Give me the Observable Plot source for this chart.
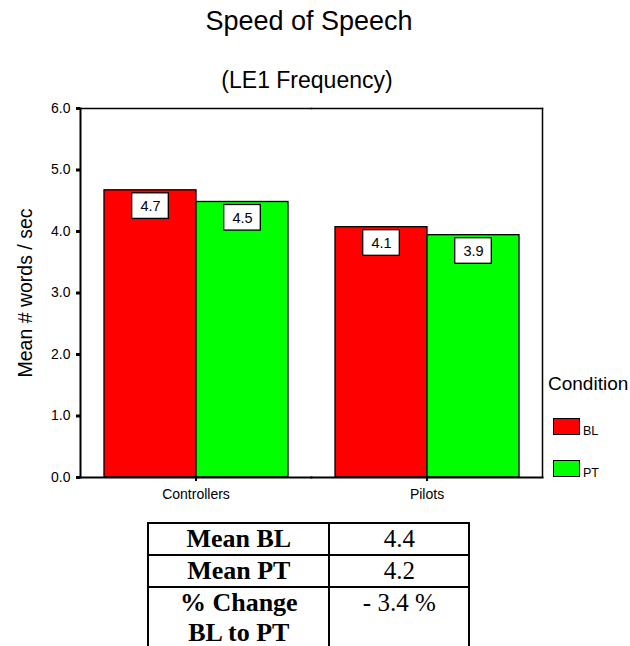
<!DOCTYPE html>
<html>
<head>
<meta charset="utf-8">
<script src="https://cdn.jsdelivr.net/npm/d3@7"></script>
<script src="https://cdn.jsdelivr.net/npm/@observablehq/plot@0.6"></script>
<style>
  html, body { margin: 0; padding: 0; background: #fff; }
  #wrap { position: relative; width: 630px; height: 646px; overflow: hidden; background: #fff; font-family: "Liberation Sans", Arial, sans-serif; color: #000; }
  #wrap > svg { position: absolute; left: 0; top: 90px; }
  .abs { position: absolute; line-height: 1; white-space: nowrap; }
  #title { left: 0; width: 618px; top: 7.8px; font-size: 27px; text-align: center; }
  #subtitle { left: 0; width: 614px; top: 68.5px; font-size: 23px; text-align: center; }
  #ylabel { left: 26px; top: 293px; font-size: 19.5px; width: 240px; text-align: center; transform: translate(-50%, -50%) rotate(-90deg); }
  #legTitle { left: 548px; top: 373.9px; font-size: 19px; }
  .sw { position: absolute; width: 25px; height: 15px; border: 1px solid #000; }
  .swl { position: absolute; font-size: 12.5px; line-height: 1; }
  #tbl { position: absolute; left: 147.3px; top: 522.3px; border-collapse: collapse; font-family: "Liberation Serif", "Times New Roman", serif; font-size: 25px; color: #000; }
  #tbl td { border: 2px solid #000; padding: 0; text-align: center; white-space: nowrap; }
  #tbl tr.r td { height: 30px; line-height: 30px; vertical-align: middle; }
  #tbl tr.t td { height: 90px; line-height: 30px; vertical-align: top; }
  #tbl td.h { font-weight: bold; font-size: 26px; width: 179px; }
  #tbl td.v { width: 138px; }
</style>
</head>
<body>
<div id="wrap"></div>
<script>
// ---- data ----
const titleText = "Speed of Speech";
const subtitleText = "(LE1 Frequency)";
const yLabel = "Mean # words / sec";
const groups = ["Controllers", "Pilots"];
const conditions = ["BL", "PT"];
const blValues = [4.67, 4.07];
const ptValues = [4.48, 3.94];
const colors = ["#ff0000", "#00ff00"];
const yTicks = [0, 1, 2, 3, 4, 5, 6];
const legendTitle = "Condition";
const tableLabels = [["Mean BL"], ["Mean PT"], ["% Change", "BL to PT"]];
const tableValues = ["4.4", "4.2", "- 3.4 %"];

const data = groups.flatMap((g, i) => [
  {group: g, cond: conditions[0], value: blValues[i]},
  {group: g, cond: conditions[1], value: ptValues[i]}
]);

const wrap = document.getElementById("wrap");

const chart = Plot.plot({
  width: 630,
  height: 420,
  marginTop: 18,
  marginBottom: 33,
  marginLeft: 79,
  marginRight: 88,
  style: {fontFamily: '"Liberation Sans", Arial, sans-serif', fontSize: "14px", color: "#000", background: "transparent"},
  fx: {domain: groups, padding: 0, label: null},
  x: {domain: conditions, paddingInner: 0, paddingOuter: 0.25, axis: null},
  y: {domain: [0, 6], label: null},
  color: {domain: conditions, range: colors},
  marks: [
    Plot.barY(data, {fx: "group", x: "cond", y: "value", fill: "cond", stroke: "#000", strokeWidth: 1.3}),
    Plot.barY(data, {fx: "group", x: "cond", y1: "value", y2: "value", insetTop: 3, insetBottom: -28.6, insetLeft: 27.7, insetRight: 27.7, fill: "#fff", stroke: "#000", strokeWidth: 1.3}),
    Plot.text(data, {fx: "group", x: "cond", y: "value", dy: 16, text: d => d.value.toFixed(1), fontSize: 14.5, fill: "#000"}),
    Plot.frame({anchor: "top", stroke: "#000", strokeWidth: 1.5}),
    Plot.frame({anchor: "bottom", stroke: "#000", strokeWidth: 2}),
    Plot.frame({anchor: "left", facetAnchor: "left", stroke: "#000", strokeWidth: 2}),
    Plot.frame({anchor: "right", facetAnchor: "right", stroke: "#000", strokeWidth: 1.5}),
    Plot.axisY({ticks: yTicks, tickFormat: d3.format(".1f"), tickSize: 4, tickPadding: 6, strokeWidth: 3, label: null, fontSize: 14}),
    Plot.axisFx({anchor: "bottom", tickSize: 4, tickPadding: 8, strokeWidth: 2, label: null, fontSize: 14})
  ]
});
wrap.appendChild(chart);

function addDiv(id, text) {
  const d = document.createElement("div");
  d.id = id; d.className = "abs"; d.textContent = text;
  wrap.appendChild(d);
  return d;
}
addDiv("title", titleText);
addDiv("subtitle", subtitleText);
addDiv("ylabel", yLabel);
addDiv("legTitle", legendTitle);

// legend swatches
conditions.forEach((c, i) => {
  const top = 418 + i * 42;
  const sw = document.createElement("div");
  sw.className = "sw";
  sw.style.left = "553px"; sw.style.top = top + "px";
  sw.style.background = colors[i];
  wrap.appendChild(sw);
  const lb = document.createElement("div");
  lb.className = "swl";
  lb.style.left = "583px"; lb.style.top = (top + 6.5) + "px";
  lb.textContent = c;
  wrap.appendChild(lb);
});

// summary table
const tbl = document.createElement("table");
tbl.id = "tbl";
tableLabels.forEach((lines, i) => {
  const tr = document.createElement("tr");
  tr.className = lines.length > 1 ? "t" : "r";
  const th = document.createElement("td");
  th.className = "h";
  lines.forEach((ln, j) => {
    if (j > 0) th.appendChild(document.createElement("br"));
    th.appendChild(document.createTextNode(ln));
  });
  const tv = document.createElement("td");
  tv.className = "v";
  tv.textContent = tableValues[i];
  tr.appendChild(th); tr.appendChild(tv);
  tbl.appendChild(tr);
});
wrap.appendChild(tbl);
</script>
</body>
</html>
